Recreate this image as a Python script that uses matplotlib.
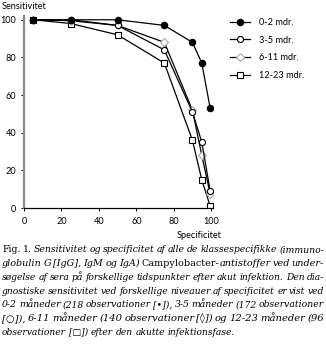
import matplotlib
matplotlib.use("Agg")
import matplotlib.pyplot as plt

W, H = 326, 349

spec = [5, 25, 50, 75, 90, 95, 99.5]
sens_0_2 = [100, 100, 100, 97, 88, 77, 53]
sens_3_5 = [100, 100, 97, 84, 51, 35, 9]
sens_6_11 = [100, 99.5, 97, 88, 52, 28, 7.5]
sens_12_23 = [100, 98, 92, 77, 36, 15, 1]
labels = ["0-2 mdr.", "3-5 mdr.", "6-11 mdr.", "12-23 mdr."]
xticks = [0, 20, 40, 60, 80, 100]
yticks = [0, 20, 40, 60, 80, 100]

SANS = ["Lato", "DejaVu Sans"]
SERIF = ["DejaVu Serif", "Liberation Serif"]
CAP_SIZE = 7.2

# billedtekst: hver linje er en liste af ord, hvert ord en liste af (tekst, kursiv)
caption = [
    [[("Fig.", False)], [("1.", False)]] + [[(w, True)] for w in
        "Sensitivitet og specificitet af alle de klassespecifikke (immuno-".split()],
    [[(w, True)] for w in "globulin G [IgG], IgM og IgA)".split()]
        + [[("Campylobacter-", False), ("antistoffer", True)]]
        + [[(w, True)] for w in "ved under-".split()],
    [[(w, True)] for w in
        "søgelse af sera på forskellige tidspunkter efter akut infektion. Den dia-".split()],
    [[(w, True)] for w in
        "gnostiske sensitivitet ved forskellige niveauer af specificitet er vist ved".split()],
    [[(w, True)] for w in
        "0-2 måneder (218 observationer [•]), 3-5 måneder (172 observationer".split()],
    [[(w, True)] for w in
        "[○]), 6-11 måneder (140 observationer [◊]) og 12-23 måneder (96".split()],
    [[(w, True)] for w in
        "observationer [□]) efter den akutte infektionsfase.".split()],
]


def px(x, y):
    return x / W, 1 - y / H


def measure(fig, renderer, line, size):
    words = []
    for word in line:
        parts = []
        w = 0
        for seg, ital in word:
            t = fig.text(0, 0, seg, fontsize=size, family=SERIF,
                         style="italic" if ital else "normal",
                         va="baseline", ha="left")
            parts.append((t, w))
            w += t.get_window_extent(renderer).width
        words.append((parts, w))
    return words


def clear(words):
    for parts, _ in words:
        for t, _ in parts:
            t.remove()


def draw_caption(fig):
    renderer = fig.canvas.get_renderer()
    x0, x1 = 2, 324
    base = 252.5
    step = 13.7
    sizes = []
    for line in caption[:-1]:
        words = measure(fig, renderer, line, CAP_SIZE)
        natural = sum(w for _, w in words) + 0.22 * CAP_SIZE * 1.39 * (len(words) - 1)
        clear(words)
        sizes.append(min(CAP_SIZE, CAP_SIZE * (x1 - x0) / natural))
    sizes.append(min(sizes))
    for i, line in enumerate(caption):
        words = measure(fig, renderer, line, sizes[i])
        total = sum(w for _, w in words)
        last = i == len(caption) - 1
        gap = 0.3 * sizes[i] * 1.39 if last else (x1 - x0 - total) / (len(words) - 1)
        x = x0
        y = base + i * step
        for parts, w in words:
            for t, off in parts:
                t.set_position(px(x + off, y))
            x += w + gap


def main():
    fig = plt.figure(figsize=(W / 100, H / 100), dpi=100)
    ax = fig.add_axes([24 / W, 1 - 208 / H, 189 / W, 192 / H])

    ax.plot(spec, sens_12_23, "-s", color="black", lw=0.9, ms=4.4,
            mfc="white", mec="black", mew=0.8, label=labels[3])
    ax.plot(spec, sens_6_11, "-D", color="black", lw=0.9, ms=3.6,
            mfc="white", mec="#aaaaaa", mew=0.8, label=labels[2])
    ax.plot(spec, sens_3_5, "-o", color="black", lw=0.9, ms=4.4,
            mfc="white", mec="black", mew=0.8, label=labels[1])
    ax.plot(spec, sens_0_2, "-o", color="black", lw=0.9, ms=4.4,
            mfc="black", mec="black", label=labels[0])

    ax.set_xlim(0, 101)
    ax.set_ylim(0, 102)
    ax.set_xticks(xticks)
    ax.set_yticks(yticks)
    for s in ["top", "right"]:
        ax.spines[s].set_visible(False)
    ax.spines["left"].set_color("#8a8a8a")
    ax.spines["left"].set_linewidth(1.6)
    ax.spines["bottom"].set_linewidth(0.9)
    ax.tick_params(axis="both", length=2.5, width=0.7, labelsize=6.6)
    ax.tick_params(axis="x", pad=4)
    ax.tick_params(axis="y", pad=3)
    for lab in ax.get_xticklabels() + ax.get_yticklabels():
        lab.set_family(SANS)

    fig.text(*px(2, 9), "Sensitivitet", family=SANS, fontsize=6.6,
             ha="left", va="baseline")
    fig.text(*px(222, 238), "Specificitet", family=SANS, fontsize=6.6,
             ha="right", va="baseline")

    handles, labs = ax.get_legend_handles_labels()
    ax.legend(handles[::-1], labs[::-1], loc="upper left",
              bbox_to_anchor=px(230, 18), bbox_transform=fig.transFigure,
              frameon=False, prop={"family": SANS, "size": 6.6},
              handlelength=2.2, handletextpad=1.0, labelspacing=0.95,
              borderaxespad=0, borderpad=0)

    draw_caption(fig)
    fig.savefig("out.png", dpi=100)


if __name__ == "__main__":
    main()
